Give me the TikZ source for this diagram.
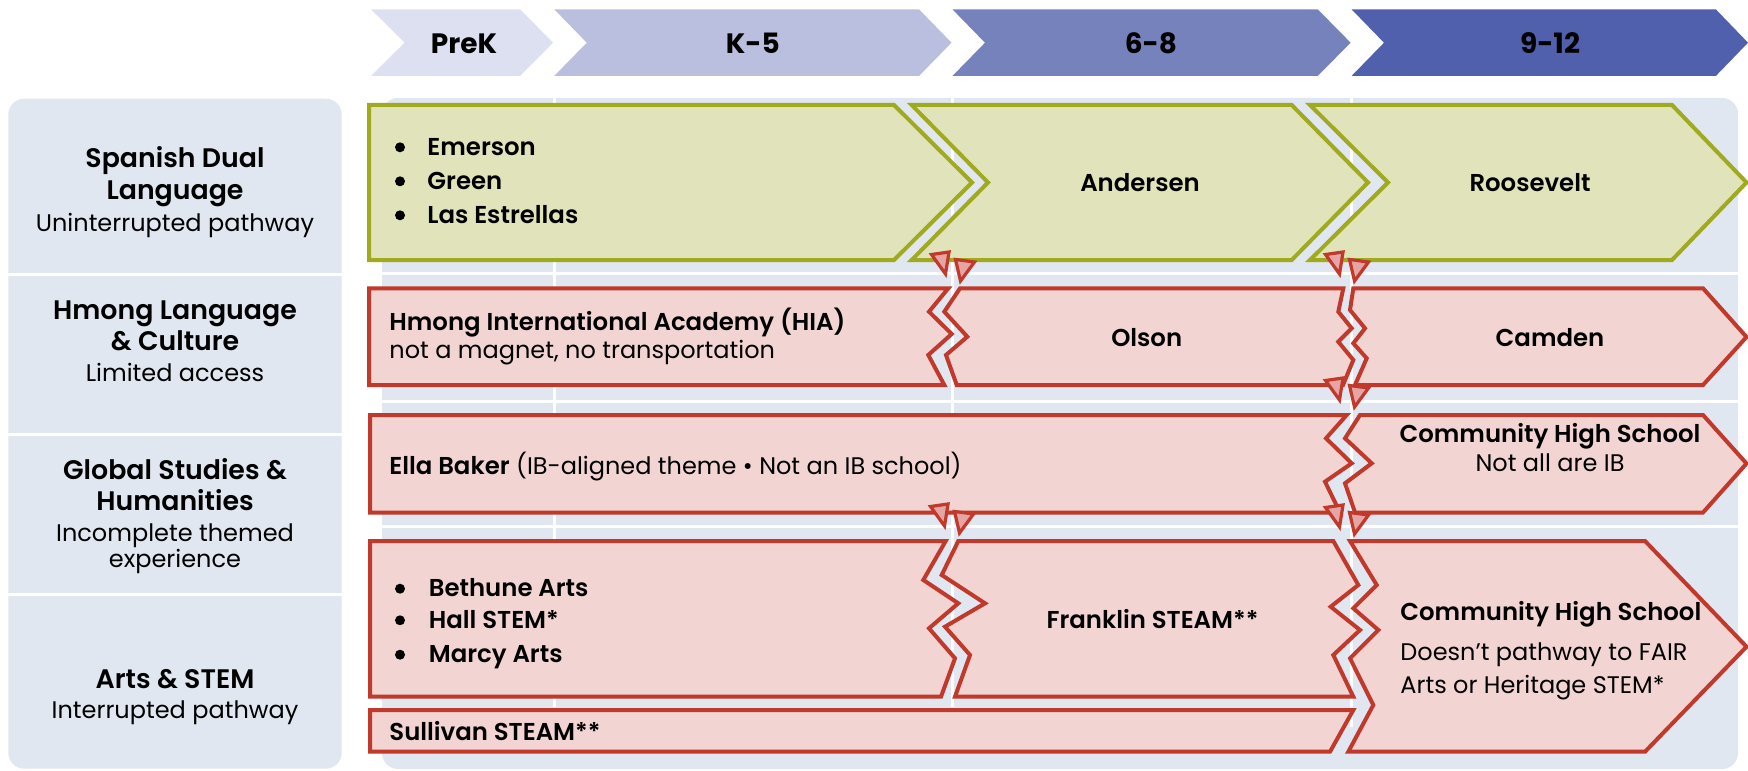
\documentclass[tikz,border=0pt]{standalone}
\usepackage{fontspec}
\setmainfont{Poppins}[BoldFont={Poppins SemiBold}]
\newfontfamily\hdrfont{Poppins}
\definecolor{panel}{RGB}{224,231,240}
\definecolor{hdrA}{RGB}{221,224,240}
\definecolor{hdrB}{RGB}{187,191,223}
\definecolor{hdrC}{RGB}{117,130,188}
\definecolor{hdrD}{RGB}{80,96,172}
\definecolor{gfill}{RGB}{225,227,186}
\definecolor{gline}{RGB}{160,170,30}
\definecolor{rfill}{RGB}{242,213,211}
\definecolor{rline}{RGB}{192,57,43}
\definecolor{tfill}{RGB}{230,165,165}
\tikzset{
  hdrtxt/.style={font=\hdrfont\bfseries\fontsize{14}{16}\selectfont, anchor=base, inner sep=0pt},
  lbltitle/.style={font=\bfseries\fontsize{13.4}{16}\selectfont, anchor=base, inner sep=0pt},
  lblsub/.style={font=\fontsize{12}{15}\selectfont, anchor=base, inner sep=0pt},
  boxb/.style={font=\bfseries\fontsize{12.2}{15}\selectfont, inner sep=0pt},
  boxr/.style={font=\fontsize{12}{15}\selectfont, inner sep=0pt},
  greenbox/.style={fill=gfill, draw=gline, line width=2pt},
  redbox/.style={fill=rfill, draw=rline, line width=2pt},
  tri/.style={fill=tfill, draw=rline, line width=1.6pt, line join=miter},
  sep/.style={draw=white, line width=1.5pt},
  brk/.pic={
    \draw[tri] (-21.5,-10.5) -- (-4,-13) -- (-7.5,9) -- cycle;
    \draw[tri] (2.5,-5.5) -- (21.5,-3) -- (7.5,16) -- cycle;
  }
}
\begin{document}
\begin{tikzpicture}[x=0.5pt,y=-0.5pt]
\useasboundingbox (0,0) rectangle (1748,770);
% header chevrons
\fill[hdrA] (371,9.3) -- (520,9.3) -- (553,42.7) -- (520,76) -- (371,76) -- (404.6,42.7) -- cycle;
\fill[hdrB] (554.2,9.3) -- (919,9.3) -- (951.5,42.7) -- (919,76) -- (554.2,76) -- (586.8,42.7) -- cycle;
\fill[hdrC] (952.4,9.3) -- (1317.7,9.3) -- (1350.6,42.7) -- (1317.7,76) -- (952.4,76) -- (985,42.7) -- cycle;
\fill[hdrD] (1351.5,9.3) -- (1715.8,9.3) -- (1748,42.7) -- (1715.8,76) -- (1351.5,76) -- (1384,42.7) -- cycle;
\node[hdrtxt] (hprek) at (464,53.3) {PreK};
\node[hdrtxt] (hk5) at (752.8,53.3) {K-5};
\node[hdrtxt] (h68) at (1151,53.3) {6-8};
\node[hdrtxt] (h912) at (1550,53.3) {9-12};
% panels
\fill[panel, rounded corners=8pt] (8.3,98.7) rectangle (341.7,768.7);
\fill[panel, rounded corners=8pt] (382,98) rectangle (1738,769);
\draw[sep] (8.3,274.3) -- (341.7,274.3);
\draw[sep] (8.3,434) -- (341.7,434);
\draw[sep] (8.3,594) -- (341.7,594);
\draw[sep] (382,273.7) -- (1738,273.7);
\draw[sep] (382,401.7) -- (1738,401.7);
\draw[sep] (382,526) -- (1738,526);
\draw[sep] (554,98) -- (554,707);
\draw[sep] (952,98) -- (952,707);
\draw[sep] (1351,98) -- (1351,727);
% left labels
\node[lbltitle] (l1a) at (175,168) {Spanish Dual};
\node[lbltitle] (l1b) at (175,199.7) {Language};
\node[lblsub] (l1c) at (175,231) {Uninterrupted pathway};
\node[lbltitle] (l2a) at (175,319) {Hmong Language};
\node[lbltitle] (l2b) at (175,350.2) {\& Culture};
\node[lblsub] (l2c) at (175,381.4) {Limited access};
\node[lbltitle] (l3a) at (175,479) {Global Studies \&};
\node[lbltitle] (l3b) at (175,510.6) {Humanities};
\node[lblsub] (l3c) at (175,541) {Incomplete themed};
\node[lblsub] (l3d) at (175,567.5) {experience};
\node[lbltitle] (l4a) at (175,688.4) {Arts \& STEM};
\node[lblsub] (l4b) at (175,718) {Interrupted pathway};
% row 1 green
\draw[greenbox] (369,105) -- (894,105) -- (972,182.5) -- (894,260) -- (369,260) -- cycle;
\draw[greenbox] (911.7,105) -- (1291.7,105) -- (1368,182.5) -- (1291.7,260) -- (911.7,260) -- (988,182.5) -- cycle;
\draw[greenbox] (1310,105) -- (1672,105) -- (1746.5,182.5) -- (1672,260) -- (1310,260) -- (1388,182.5) -- cycle;
\fill (400,147.3) circle (5);
\fill (400,181.3) circle (5);
\fill (400,215.3) circle (5);
\node[boxb, anchor=base west] (emerson) at (427,155.3) {Emerson};
\node[boxb, anchor=base west] (green) at (427,189.3) {Green};
\node[boxb, anchor=base west] (estrellas) at (427,223.3) {Las Estrellas};
\node[boxb, anchor=base] (andersen) at (1140,191.3) {Andersen};
\node[boxb, anchor=base] (roosevelt) at (1530,191.3) {Roosevelt};
% row 2
\draw[redbox] (369,288.3) -- (948.3,288.3) -- (929,311.7) -- (951.7,334) -- (928.3,355) -- (944.3,385) -- (369,385) -- cycle;
\draw[redbox] (960,288.3) -- (1343.3,288.3) -- (1338.3,311.7) -- (1351.7,328.3) -- (1338.3,341.7) -- (1353.3,360) -- (1343,385) -- (956.7,385) -- (946,355) -- (967.3,336.7) -- (944.3,311.7) -- cycle;
\draw[redbox] (1353.3,288.3) -- (1703,288.3) -- (1746.5,337) -- (1703,385) -- (1355,385) -- (1366.7,358.3) -- (1353.3,343.3) -- (1365,328.3) -- (1350,310) -- cycle;
\node[boxb, anchor=base west] (hia) at (389,330.7) {Hmong International Academy (HIA)};
\node[boxr, anchor=base west] (hianote) at (389,358.3) {not a magnet, no transportation};
\node[boxb, anchor=base] (olson) at (1146.7,346) {Olson};
\node[boxb, anchor=base] (camden) at (1550,346) {Camden};
% row 3
\draw[redbox] (370,415) -- (1346.7,415) -- (1326,438.3) -- (1351.7,463.3) -- (1325,481.7) -- (1340,512.5) -- (370,512.5) -- cycle;
\draw[redbox] (1360,415) -- (1703,415) -- (1746.5,463.5) -- (1703,512.5) -- (1355,512.5) -- (1345,483.3) -- (1371.7,463.3) -- (1345,438.3) -- cycle;
\node[boxr, anchor=base west] (ella) at (389,474) {{\fontsize{12.2}{15}\selectfont\bfseries Ella Baker} (IB-aligned theme • Not an IB school)};
\node[boxb, anchor=base] (chs1) at (1550,442.7) {Community High School};
\node[boxr, anchor=base] (chs1n) at (1550,471.7) {Not all are IB};
% row 4
\draw[redbox] (370,541) -- (945.7,541) -- (923.3,580) -- (958.3,603.3) -- (929,628.3) -- (955,658.3) -- (941,696.7) -- (370,696.7) -- cycle;
\draw[redbox] (958.3,541) -- (1333.3,541) -- (1358.3,585) -- (1330.7,606.7) -- (1360,630) -- (1333.3,655) -- (1353.3,696.7) -- (955,696.7) -- (970,655) -- (945,626.7) -- (985,603.3) -- (941.7,575) -- cycle;
\draw[redbox] (370,710) -- (1353.3,710) -- (1330,751.7) -- (370,751.7) -- cycle;
\draw[redbox] (1350,541) -- (1645,541) -- (1746.5,646.7) -- (1645,751.7) -- (1348.3,751.7) -- (1373.3,705) -- (1350,658.3) -- (1378.3,630) -- (1353.3,608.3) -- (1376.7,585) -- cycle;
\fill (400,588.7) circle (5);
\fill (400,620.3) circle (5);
\fill (400,654.7) circle (5);
\node[boxb, anchor=base west] (bethune) at (428.5,596.7) {Bethune Arts};
\node[boxb, anchor=base west] (hall) at (428.5,628.3) {Hall STEM*};
\node[boxb, anchor=base west] (marcy) at (428.5,662.7) {Marcy Arts};
\node[boxb, anchor=base] (franklin) at (1152.5,628.3) {Franklin STEAM**};
\node[boxb, anchor=base west] (sullivan) at (389,740.7) {Sullivan STEAM**};
\node[boxb, anchor=base west] (chs2) at (1400,620.7) {Community High School};
\node[boxr, anchor=base west] (chs2a) at (1400,660) {Doesn’t pathway to FAIR};
\node[boxr, anchor=base west] (chs2b) at (1400,693.3) {Arts or Heritage STEM*};
% break markers
\pic at (953,265) {brk};
\pic at (1347,265) {brk};
\pic at (1347,391) {brk};
\pic at (952,517) {brk};
\pic at (1347,518) {brk};
\end{tikzpicture}
\end{document}
